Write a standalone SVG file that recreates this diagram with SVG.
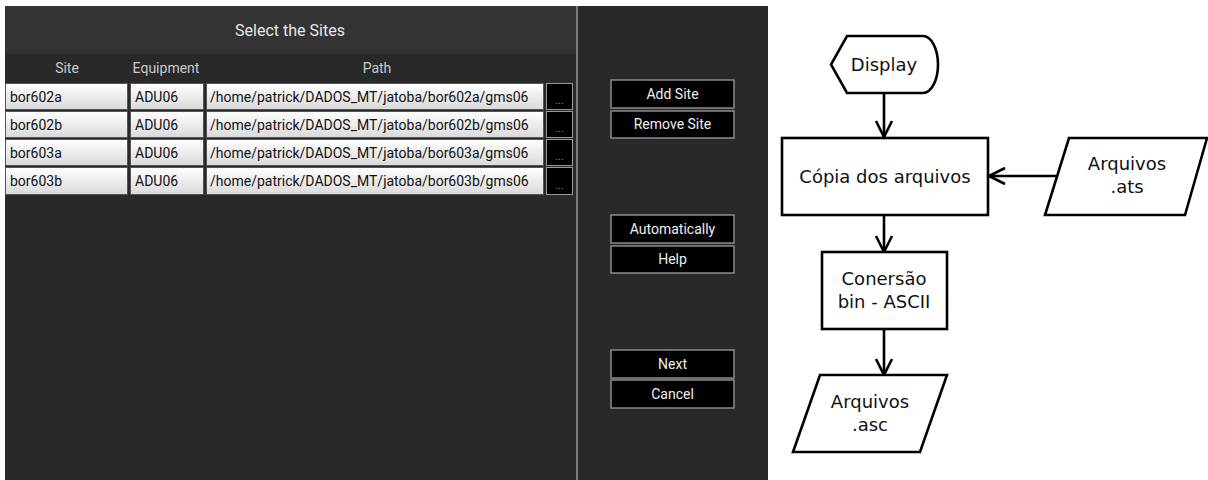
<svg xmlns="http://www.w3.org/2000/svg" width="1208" height="480" viewBox="0 0 1208 480">
<defs>
<linearGradient id="cellg" x1="0" y1="0" x2="0" y2="1">
<stop offset="0" stop-color="#ffffff"/>
<stop offset="1" stop-color="#d9d9d9"/>
</linearGradient>
<marker id="arr" viewBox="0 0 20 20" refX="18" refY="10" markerWidth="20" markerHeight="20" markerUnits="userSpaceOnUse" orient="auto">
<path d="M2,2 L18,10 L2,18" fill="none" stroke="#000" stroke-width="2.6"/>
</marker>
<style>
.ui{font-family:Roboto,"Liberation Sans",sans-serif;}
.cell{fill:url(#cellg);stroke:#555;stroke-width:1;}
.ct{font-size:14px;fill:#111;}
.hd{font-size:14px;fill:#c8c8c8;text-anchor:middle;}
.btn{fill:#000;stroke:#8a8a8a;stroke-width:1.5;}
.bt{font-size:14px;fill:#eeeeee;text-anchor:middle;}
.dot{fill:#000;stroke:#999;stroke-width:1;}
.fc{fill:#fff;stroke:#000;stroke-width:2.6;}
.ft{font-family:"DejaVu Sans",sans-serif;font-size:18px;fill:#111;text-anchor:middle;}
.cn{fill:none;stroke:#000;stroke-width:2.6;}
</style>
</defs>
<rect width="1208" height="480" fill="#fff"/>
<g id="window" class="ui">
<rect x="5" y="6" width="763" height="474" fill="#292929"/>
<rect x="5" y="6" width="571" height="48" fill="#333333"/>
<line x1="577" y1="6" x2="577" y2="480" stroke="#9a9a9a" stroke-width="1.5"/>
<text x="290" y="36" font-size="16" fill="#e6e6e6" text-anchor="middle">Select the Sites</text>
<text class="hd" x="67" y="73">Site</text>
<text class="hd" x="166" y="73">Equipment</text>
<text class="hd" x="377" y="73">Path</text>
</g>
<g id="row1" class="ui">
<rect class="cell" x="5.5" y="83.5" width="122" height="26"/>
<rect class="cell" x="130.5" y="83.5" width="73" height="26"/>
<rect class="cell" x="206.5" y="83.5" width="337" height="26"/>
<rect class="dot" x="546.5" y="83.5" width="26" height="26"/>
<text class="ct" x="10" y="101.5">bor602a</text>
<text class="ct" x="135" y="101.5">ADU06</text>
<text class="ct" x="210" y="101.5">/home/patrick/DADOS_MT/jatoba/bor602a/gms06</text>
<text x="559.5" y="104" font-size="11" fill="#888" text-anchor="middle">...</text>
</g>
<g id="row2" class="ui">
<rect class="cell" x="5.5" y="111.5" width="122" height="26"/>
<rect class="cell" x="130.5" y="111.5" width="73" height="26"/>
<rect class="cell" x="206.5" y="111.5" width="337" height="26"/>
<rect class="dot" x="546.5" y="111.5" width="26" height="26"/>
<text class="ct" x="10" y="129.5">bor602b</text>
<text class="ct" x="135" y="129.5">ADU06</text>
<text class="ct" x="210" y="129.5">/home/patrick/DADOS_MT/jatoba/bor602b/gms06</text>
<text x="559.5" y="132" font-size="11" fill="#888" text-anchor="middle">...</text>
</g>
<g id="row3" class="ui">
<rect class="cell" x="5.5" y="139.5" width="122" height="26"/>
<rect class="cell" x="130.5" y="139.5" width="73" height="26"/>
<rect class="cell" x="206.5" y="139.5" width="337" height="26"/>
<rect class="dot" x="546.5" y="139.5" width="26" height="26"/>
<text class="ct" x="10" y="157.5">bor603a</text>
<text class="ct" x="135" y="157.5">ADU06</text>
<text class="ct" x="210" y="157.5">/home/patrick/DADOS_MT/jatoba/bor603a/gms06</text>
<text x="559.5" y="160" font-size="11" fill="#888" text-anchor="middle">...</text>
</g>
<g id="row4" class="ui">
<rect class="cell" x="5.5" y="167.5" width="122" height="27"/>
<rect class="cell" x="130.5" y="167.5" width="73" height="27"/>
<rect class="cell" x="206.5" y="167.5" width="337" height="27"/>
<rect class="dot" x="546.5" y="167.5" width="26" height="27"/>
<text class="ct" x="10" y="186">bor603b</text>
<text class="ct" x="135" y="186">ADU06</text>
<text class="ct" x="210" y="186">/home/patrick/DADOS_MT/jatoba/bor603b/gms06</text>
<text x="559.5" y="189" font-size="11" fill="#888" text-anchor="middle">...</text>
</g>
<g id="btn-add" class="ui"><rect class="btn" x="611" y="80" width="123" height="28"/><text class="bt" x="672.5" y="99">Add Site</text></g>
<g id="btn-remove" class="ui"><rect class="btn" x="611" y="111" width="123" height="27"/><text class="bt" x="672.5" y="129">Remove Site</text></g>
<g id="btn-auto" class="ui"><rect class="btn" x="611" y="215" width="123" height="28"/><text class="bt" x="672.5" y="234">Automatically</text></g>
<g id="btn-help" class="ui"><rect class="btn" x="611" y="246" width="123" height="27"/><text class="bt" x="672.5" y="264">Help</text></g>
<g id="btn-next" class="ui"><rect class="btn" x="611" y="350" width="123" height="28"/><text class="bt" x="672.5" y="369">Next</text></g>
<g id="btn-cancel" class="ui"><rect class="btn" x="611" y="380" width="123" height="28"/><text class="bt" x="672.5" y="399">Cancel</text></g>
<g id="connectors">
<line class="cn" x1="884" y1="93" x2="884" y2="137" marker-end="url(#arr)"/>
<line class="cn" x1="1056" y1="176" x2="989" y2="176" marker-end="url(#arr)"/>
<line class="cn" x1="884" y1="215" x2="884" y2="252" marker-end="url(#arr)"/>
<line class="cn" x1="884" y1="329" x2="884" y2="375" marker-end="url(#arr)"/>
</g>
<g id="display">
<path class="fc" d="M847,36 L923,36 A15,28.5 0 0 1 923,93 L847,93 L831,64.5 Z"/>
<text class="ft" x="884" y="71">Display</text>
</g>
<g id="copia">
<rect class="fc" x="782" y="138" width="206" height="77"/>
<text class="ft" x="885" y="183">Cópia dos arquivos</text>
</g>
<g id="ats">
<path class="fc" d="M1069,138 L1207,138 L1185,215 L1045,215 Z"/>
<text class="ft" x="1127" y="170">Arquivos</text>
<text class="ft" x="1127" y="193">.ats</text>
</g>
<g id="conversao">
<rect class="fc" x="822" y="252" width="125" height="77"/>
<text class="ft" x="884" y="285">Conersão</text>
<text class="ft" x="884" y="308">bin - ASCII</text>
</g>
<g id="asc">
<path class="fc" d="M820,375 L947,375 L920,452 L793,452 Z"/>
<text class="ft" x="870" y="408">Arquivos</text>
<text class="ft" x="870" y="431">.asc</text>
</g>
</svg>
